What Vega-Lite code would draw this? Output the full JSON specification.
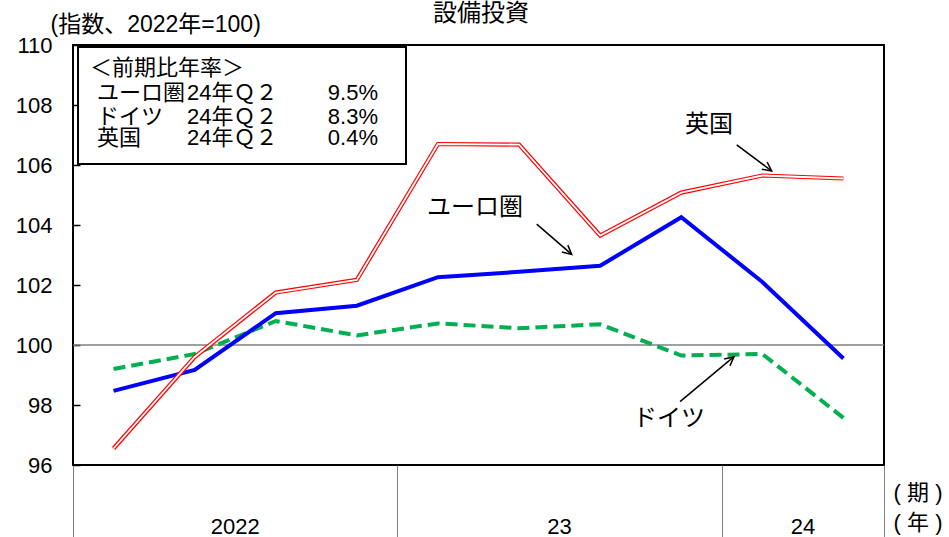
{
  "$schema": "https://vega.github.io/schema/vega-lite/v6.json",
  "width": 811,
  "height": 420,
  "autosize": {"type": "none"},
  "padding": {"left": 73, "top": 45, "right": 65, "bottom": 72},
  "background": "white",
  "config": {
    "font": "Liberation Sans, Noto Sans CJK JP",
    "view": {"stroke": "black", "strokeWidth": 2}
  },
  "datasets": {
    "series": [
      {"x": 1, "y": 96.55, "s": "英国"}, {"x": 2, "y": 99.6, "s": "英国"}, {"x": 3, "y": 101.75, "s": "英国"}, {"x": 4, "y": 102.17, "s": "英国"}, {"x": 5, "y": 106.7, "s": "英国"},
      {"x": 6, "y": 106.68, "s": "英国"}, {"x": 7, "y": 103.65, "s": "英国"}, {"x": 8, "y": 105.08, "s": "英国"}, {"x": 9, "y": 105.65, "s": "英国"}, {"x": 10, "y": 105.55, "s": "英国"},
      {"x": 1, "y": 98.47, "s": "ユーロ圏"}, {"x": 2, "y": 99.17, "s": "ユーロ圏"}, {"x": 3, "y": 101.06, "s": "ユーロ圏"}, {"x": 4, "y": 101.31, "s": "ユーロ圏"}, {"x": 5, "y": 102.26, "s": "ユーロ圏"},
      {"x": 6, "y": 102.44, "s": "ユーロ圏"}, {"x": 7, "y": 102.64, "s": "ユーロ圏"}, {"x": 8, "y": 104.26, "s": "ユーロ圏"}, {"x": 9, "y": 102.1, "s": "ユーロ圏"}, {"x": 10, "y": 99.55, "s": "ユーロ圏"},
      {"x": 1, "y": 99.2, "s": "ドイツ"}, {"x": 2, "y": 99.7, "s": "ドイツ"}, {"x": 3, "y": 100.8, "s": "ドイツ"}, {"x": 4, "y": 100.32, "s": "ドイツ"}, {"x": 5, "y": 100.72, "s": "ドイツ"},
      {"x": 6, "y": 100.56, "s": "ドイツ"}, {"x": 7, "y": 100.69, "s": "ドイツ"}, {"x": 8, "y": 99.65, "s": "ドイツ"}, {"x": 9, "y": 99.7, "s": "ドイツ"}, {"x": 10, "y": 97.57, "s": "ドイツ"}
    ],
    "baseline": [{"x": 0.5, "x2": 10.5, "y": 100}],
    "box": [{"x": 0.562, "x2": 4.606, "y": 109.93, "y2": 106.03}],
    "leftText": [
      {"x": 0.71, "y": 109.23, "t": "＜前期比年率＞"},
      {"x": 0.796, "y": 108.4, "t": "ユーロ圏"},
      {"x": 0.796, "y": 107.6, "t": "ドイツ"},
      {"x": 0.796, "y": 106.9, "t": "英国"},
      {"x": 1.906, "y": 108.4, "t": "24年Ｑ２"},
      {"x": 1.906, "y": 107.6, "t": "24年Ｑ２"},
      {"x": 1.906, "y": 106.9, "t": "24年Ｑ２"}
    ],
    "rightText": [
      {"x": 4.261, "y": 108.4, "t": "9.5%"},
      {"x": 4.261, "y": 107.6, "t": "8.3%"},
      {"x": 4.261, "y": 106.9, "t": "0.4%"}
    ],
    "labelText": [
      {"x": 8.342, "y": 107.33, "t": "英国"},
      {"x": 5.457, "y": 104.57, "t": "ユーロ圏"},
      {"x": 7.849, "y": 97.53, "t": "ドイツ"},
      {"x": 5.53, "y": 111.05, "t": "設備投資"}
    ],
    "yearText": [
      {"x": 2.5, "y": 93.93, "t": "2022"},
      {"x": 6.5, "y": 93.93, "t": "23"},
      {"x": 9.5, "y": 93.93, "t": "24"},
      {"x": 10.92, "y": 95.07, "t": "(  期  )"},
      {"x": 10.92, "y": 94.07, "t": "(  年  )"}
    ],
    "arrows": [
      {"x": 8.684, "y": 106.67, "x2": 9.115, "y2": 105.8, "angle": 126.6},
      {"x": 6.218, "y": 104.03, "x2": 6.649, "y2": 103.02, "angle": 130.9},
      {"x": 7.985, "y": 98.11, "x2": 8.65, "y2": 99.61, "angle": 50.2}
    ]
  },
  "encoding": {
    "x": {
      "field": "x", "type": "quantitative",
      "scale": {"domain": [0.5, 10.5], "nice": false, "zero": false},
      "axis": {
        "title": null, "values": [0.5, 4.5, 8.5, 10.5], "labels": false,
        "domain": false, "tickSize": 72, "tickColor": "#808080", "tickWidth": 1, "grid": false
      }
    },
    "y": {
      "field": "y", "type": "quantitative",
      "scale": {"domain": [96, 110], "nice": false, "zero": false},
      "axis": {
        "title": "(指数、2022年=100)",
        "titleAngle": 0, "titleAlign": "left", "titleBaseline": "middle",
        "titleX": -23, "titleY": -21, "titleFontSize": 23, "titleFontWeight": "normal",
        "titleColor": "black", "titleFont": "Liberation Sans, Noto Sans CJK JP",
        "values": [96, 98, 100, 102, 104, 106, 108, 110],
        "labelFontSize": 22, "labelColor": "black", "labelPadding": 28,
        "tickSize": -7, "tickColor": "black", "tickWidth": 1.5,
        "domain": false, "grid": false
      }
    }
  },
  "layer": [
    {
      "data": {"name": "baseline"},
      "mark": {"type": "rule", "color": "#808080", "strokeWidth": 1.5},
      "encoding": {"x2": {"field": "x2"}}
    },
    {
      "data": {"name": "box"},
      "mark": {"type": "rect", "fill": "white", "stroke": "black", "strokeWidth": 2},
      "encoding": {"x2": {"field": "x2"}, "y2": {"field": "y2"}}
    },
    {
      "data": {"name": "series"},
      "transform": [{"filter": "datum.s === 'ドイツ'"}],
      "mark": {"type": "line", "color": "#00B050", "strokeWidth": 4, "strokeDash": [12, 6]}
    },
    {
      "data": {"name": "series"},
      "transform": [{"filter": "datum.s === 'ユーロ圏'"}],
      "mark": {"type": "line", "color": "#0000FF", "strokeWidth": 4}
    },
    {
      "data": {"name": "series"},
      "transform": [{"filter": "datum.s === '英国'"}],
      "mark": {"type": "line", "color": "#FF0000", "strokeWidth": 4.2}
    },
    {
      "data": {"name": "series"},
      "transform": [{"filter": "datum.s === '英国'"}],
      "mark": {"type": "line", "color": "white", "strokeWidth": 1.8}
    },
    {
      "data": {"name": "leftText"},
      "mark": {"type": "text", "align": "left", "baseline": "middle", "fontSize": 22, "color": "black"},
      "encoding": {"text": {"field": "t"}}
    },
    {
      "data": {"name": "rightText"},
      "mark": {"type": "text", "align": "right", "baseline": "middle", "fontSize": 22, "color": "black"},
      "encoding": {"text": {"field": "t"}}
    },
    {
      "data": {"name": "labelText"},
      "mark": {"type": "text", "align": "center", "baseline": "middle", "fontSize": 24, "color": "black"},
      "encoding": {"text": {"field": "t"}}
    },
    {
      "data": {"name": "yearText"},
      "mark": {"type": "text", "align": "center", "baseline": "middle", "fontSize": 22, "color": "black"},
      "encoding": {"text": {"field": "t"}}
    },
    {
      "data": {"name": "arrows"},
      "mark": {"type": "rule", "color": "black", "strokeWidth": 1.5},
      "encoding": {"x2": {"field": "x2"}, "y2": {"field": "y2"}}
    },
    {
      "data": {"name": "arrows"},
      "mark": {"type": "point", "shape": "M -0.45 0.9 L 0 0 L 0.45 0.9", "filled": false, "stroke": "black", "strokeWidth": 1.5, "size": 400, "opacity": 1},
      "encoding": {
        "x": {"field": "x2", "type": "quantitative"},
        "y": {"field": "y2", "type": "quantitative"},
        "angle": {"field": "angle", "type": "quantitative", "scale": null}
      }
    }
  ]
}
